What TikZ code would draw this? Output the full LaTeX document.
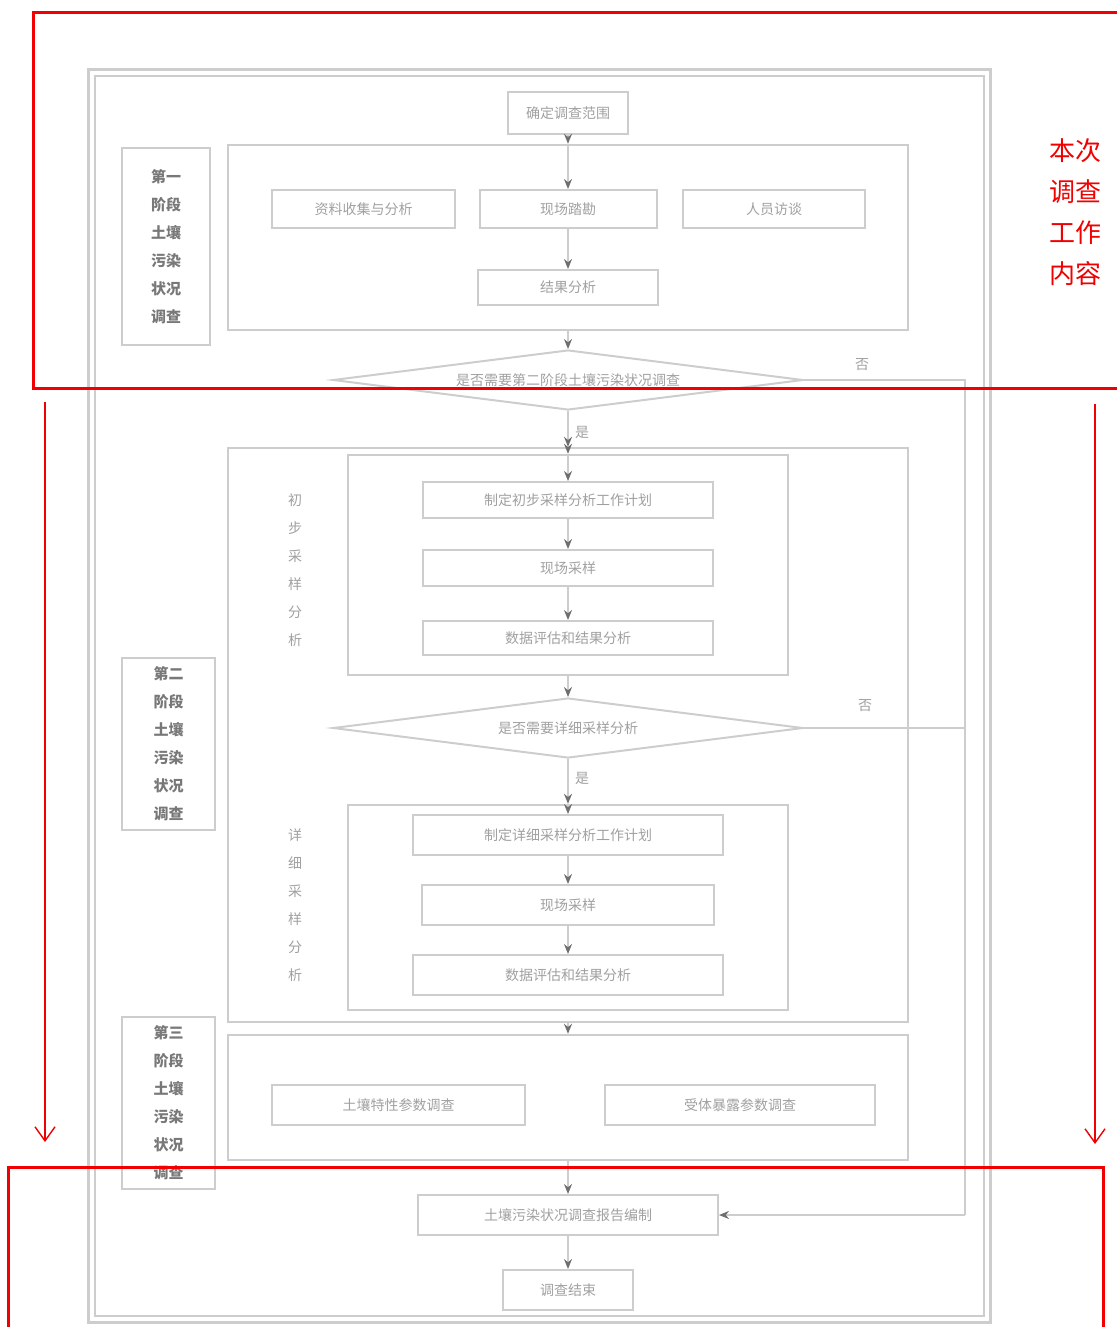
\documentclass[tikz,border=0pt]{standalone}
\usepackage{fontspec}
\newfontfamily\cjk{Noto Sans CJK SC}
\usetikzlibrary{arrows.meta,positioning,shapes.geometric}
\definecolor{redmark}{RGB}{240,0,0}
\definecolor{boxgrey}{RGB}{205,205,205}
\definecolor{textgrey}{RGB}{160,160,160}
\definecolor{labgrey}{RGB}{120,120,120}
\definecolor{tipgrey}{RGB}{110,110,110}

\begin{document}
\begin{tikzpicture}[x=0.5pt,y=-0.5pt,
  every node/.style={font=\cjk\fontsize{7}{8}\selectfont,text=textgrey},
  frame/.style={draw=boxgrey,line width=1.2pt,inner sep=0pt},
  stepbox/.style={draw=boxgrey,line width=1pt,inner sep=1pt},
  stagelab/.style={draw=boxgrey,line width=0.8pt,align=center,text=labgrey,font=\cjk\bfseries\fontsize{7.5}{14}\selectfont},
  sublab/.style={align=center,text=textgrey,font=\cjk\fontsize{7}{14}\selectfont},
  decide/.style={diamond,aspect=7.8,draw=boxgrey,line width=1pt,inner sep=0pt,minimum width=235pt,minimum height=30pt},
  flow/.style={draw=boxgrey,line width=1pt,-{Stealth[length=5pt,width=4pt,color=tipgrey]}},
  redbox/.style={draw=redmark,line width=1.5pt},
  redarrow/.style={draw=redmark,line width=0.7pt,-{Straight Barb[length=7pt,width=10pt]}}]
  \useasboundingbox (0,0) rectangle (1117,1327);

  % outer frame of the grey chart
  \draw[boxgrey,line width=1.5pt] (88,70) rectangle (990,1322);
  \draw[boxgrey,line width=0.8pt] (95,76) rectangle (984,1316);

  % stage one
  \node[stepbox,minimum width=60pt,minimum height=21pt] (start) at (568,113) {确定调查范围};
  \node[frame,minimum width=340pt,minimum height=92.5pt] (s1) at (568,237.5) {};
  \node[stagelab,minimum width=44pt,minimum height=98.5pt] (s1lab) at (166,246.5) {第一\\阶段\\土壤\\污染\\状况\\调查};
  \node[stepbox,minimum width=91.5pt,minimum height=19pt] (collect) at (363.5,209) {资料收集与分析};
  \node[stepbox,minimum width=88.5pt,minimum height=19pt] (visit) at (568,209) {现场踏勘};
  \node[stepbox,minimum width=91pt,minimum height=19pt] (talk) at (774,209) {人员访谈};
  \node[stepbox,minimum width=90pt,minimum height=17.5pt] (result) at (568,287.5) {结果分析};
  \node[decide] (d1) at (568,380) {是否需要第二阶段土壤污染状况调查};
  \node (no1) at (862,365) {否};

  % stage two
  \node[frame,minimum width=340pt,minimum height=287pt] (s2) at (568,735) {};
  \node[stagelab,minimum width=46.5pt,minimum height=86pt] (s2lab) at (168.5,744) {第二\\阶段\\土壤\\污染\\状况\\调查};
  \node (yes1) at (582,432) {是};
  \node[frame,minimum width=220pt,minimum height=110pt] (pre) at (568,565) {};
  \node[sublab] (prelab) at (295,570) {初\\步\\采\\样\\分\\析};
  \node[stepbox,minimum width=145pt,minimum height=18pt] (plan1) at (568,500) {制定初步采样分析工作计划};
  \node[stepbox,minimum width=145pt,minimum height=18pt] (samp1) at (568,568) {现场采样};
  \node[stepbox,minimum width=145pt,minimum height=17pt] (eval1) at (568,638) {数据评估和结果分析};
  \node[decide] (d2) at (568,728) {是否需要详细采样分析};
  \node (no2) at (865,706) {否};
  \node (yes2) at (582,778) {是};
  \node[frame,minimum width=220pt,minimum height=102.5pt] (det) at (568,907.5) {};
  \node[sublab] (detlab) at (295,905) {详\\细\\采\\样\\分\\析};
  \node[stepbox,minimum width=155pt,minimum height=20pt] (plan2) at (568,835) {制定详细采样分析工作计划};
  \node[stepbox,minimum width=146pt,minimum height=20pt] (samp2) at (568,905) {现场采样};
  \node[stepbox,minimum width=155pt,minimum height=20pt] (eval2) at (568,975) {数据评估和结果分析};

  % stage three
  \node[frame,minimum width=340pt,minimum height=62.5pt] (s3) at (568,1097.5) {};
  \node[stagelab,minimum width=46.5pt,minimum height=86pt] (s3lab) at (168.5,1103) {第三\\阶段\\土壤\\污染\\状况\\调查};
  \node[stepbox,minimum width=126.5pt,minimum height=20pt] (soil) at (398.5,1105) {土壤特性参数调查};
  \node[stepbox,minimum width=135pt,minimum height=20pt] (expo) at (740,1105) {受体暴露参数调查};

  % report and end
  \node[stepbox,minimum width=150pt,minimum height=20pt] (report) at (568,1215) {土壤污染状况调查报告编制};
  \node[stepbox,minimum width=65pt,minimum height=20pt] (end) at (568,1290) {调查结束};
  \coordinate (back) at (965,1215);

  \draw[flow] (start) -- (s1.north);
  \draw[flow] (s1.north) -- (visit);
  \draw[flow] (visit) -- (result);
  \draw[flow] (s1.south) -- (d1);
  \draw[flow] (d1) -- (s2.north);
  \draw[flow] (s2.north) -- (pre.north);
  \draw[flow] (pre.north) -- (plan1);
  \draw[flow] (plan1) -- (samp1);
  \draw[flow] (samp1) -- (eval1);
  \draw[flow] (pre.south) -- (d2);
  \draw[flow] (d2) -- (det.north);
  \draw[flow] (det.north) -- (plan2);
  \draw[flow] (plan2) -- (samp2);
  \draw[flow] (samp2) -- (eval2);
  \draw[flow] (s2.south) -- (s3.north);
  \draw[flow] (s3.south) -- (report);
  \draw[flow] (report) -- (end);
  \draw[boxgrey,line width=1pt] (d1.east) -| (back);
  \draw[boxgrey,line width=1pt] (d2.east) -- (d2.east -| back);
  \draw[flow] (back) -- (report);

  % red marks
  \draw[redbox] (1125,13) -- (33,13) -- (33,388) -- (1125,388);
  \draw[redbox] (1103,1335) -- (1103,1167) -- (8,1167) -- (8,1335);
  \node[text=redmark,align=center,font=\cjk\fontsize{13}{20.5}\selectfont] (note) at (1075,212) {本次\\调查\\工作\\内容};
  \coordinate (la0) at (45,402); \coordinate (la1) at (45,1142);
  \coordinate (ra0) at (1095,404); \coordinate (ra1) at (1095,1144);
  \draw[redarrow] (la0) -- (la1);
  \draw[redarrow] (ra0) -- (ra1);
\end{tikzpicture}
\end{document}
